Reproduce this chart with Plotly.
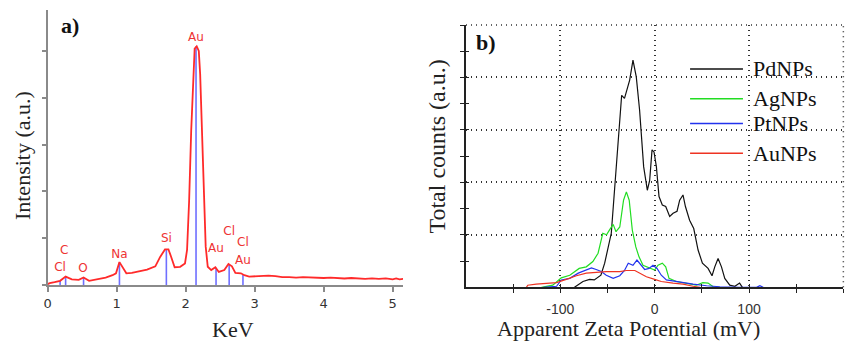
import plotly.graph_objects as go

# ---------------- Panel a: EDS spectrum ----------------
eds_kev = [0.0, 0.03, 0.1, 0.18, 0.26, 0.35, 0.45, 0.52, 0.6, 0.72, 0.84, 0.94, 0.99,
           1.04, 1.1, 1.14, 1.22, 1.3, 1.44, 1.56, 1.63, 1.7, 1.75, 1.79, 1.84, 1.92,
           1.99, 2.02, 2.05, 2.08, 2.11, 2.13, 2.16, 2.19, 2.21, 2.24, 2.27, 2.29, 2.32,
           2.37, 2.43, 2.48, 2.56, 2.62, 2.67, 2.72, 2.8, 2.85, 2.92, 3.0, 3.1, 3.2, 3.3,
           3.4, 3.5, 3.6, 3.7, 3.8, 3.9, 4.0, 4.1, 4.2, 4.3, 4.4, 4.5, 4.6, 4.7, 4.8,
           4.9, 5.0, 5.05, 5.1, 5.15]
eds_int = [0.02, 0.04, 0.06, 0.09, 0.18, 0.12, 0.11, 0.16, 0.09, 0.12, 0.16, 0.21, 0.25,
           0.49, 0.36, 0.25, 0.26, 0.28, 0.33, 0.40, 0.60, 0.76, 0.76, 0.60, 0.38, 0.39,
           0.46, 0.75, 1.8, 3.3, 4.6, 5.05, 5.1, 5.0, 4.5, 3.2, 1.6, 0.82, 0.39,
           0.32, 0.38, 0.28, 0.32, 0.45, 0.40, 0.26, 0.25, 0.21, 0.18, 0.19, 0.19, 0.20, 0.19,
           0.17, 0.17, 0.16, 0.17, 0.16, 0.16, 0.15, 0.16, 0.15, 0.14, 0.15, 0.14, 0.13, 0.14, 0.13,
           0.14, 0.12, 0.14, 0.12, 0.13]

# element marker lines (position, height)
line_kev = [0.18, 0.26, 0.52, 1.04, 1.72, 2.15, 2.44, 2.63, 2.83]
line_int = [0.09, 0.18, 0.16, 0.48, 0.76, 5.1, 0.37, 0.45, 0.23]

# element labels
elem_labels = ["Cl", "C", "O", "Na", "Si", "Au", "Au", "Cl", "Cl", "Au"]
elem_x = [0.18, 0.24, 0.51, 1.04, 1.72, 2.15, 2.44, 2.63, 2.83, 2.83]
elem_y = [0.36, 0.73, 0.34, 0.64, 0.98, 5.28, 0.77, 1.13, 0.90, 0.51]

eds_xticks = [0, 1, 2, 3, 4, 5]
eds_yticks = [0, 1, 2, 3, 4, 5]

# ---------------- Panel b: zeta potential ----------------
pd_mv = [-85, -76, -69, -64, -57, -53, -46, -41, -35, -32, -26.5, -23, -19.5, -16, -11.7,
         -7.8, -5.3, -2.8, -0.7, 1.8, 4.6, 8.1, 11.7, 15.9, 19.5, 23.7, 26.5, 30, 32.6,
         37, 41.4, 46, 50.6, 56.6, 60.8, 63.7, 67.2, 70.8, 74.3, 79.6, 85, 90, 93]
pd_cnt = [0, 0.11, 0.15, 0.14, 0.23, 0.46, 1.03, 2.3, 3.66, 3.6, 3.95, 4.33, 4.01, 3.38, 2.3,
          1.85, 2.04, 2.62, 2.58, 2.3, 1.73, 1.57, 1.54, 1.35, 1.41, 1.45, 1.66, 1.76, 1.54,
          1.28, 1.12, 0.71, 0.46, 0.36, 0.22, 0.39, 0.55, 0.39, 0.17, 0.04, 0.02, 0.08, 0]

ag_mv = [-120, -108, -99, -90, -80, -72.5, -65.5, -60, -55, -51, -48, -44, -41, -37, -33,
         -30, -27, -23.7, -20, -16.6, -12.4, -5.3, 0, 3.5, 8.1, 11.7, 15.2, 23, 33.6, 44,
         51, 56.6, 62, 69]
ag_cnt = [0, 0.04, 0.18, 0.23, 0.36, 0.39, 0.49, 0.65, 1.03, 1.0, 1.09, 1.2, 1.06, 1.15, 1.66,
          1.82, 1.66, 1.09, 0.77, 0.58, 0.42, 0.36, 0.33, 0.42, 0.46, 0.39, 0.17, 0.11, 0.08, 0.04,
          0.09, 0.08, 0.01, 0]

pt_mv = [-118, -104, -99, -90, -81, -72.5, -67, -62, -56.6, -51.3, -44, -37, -32, -28, -23,
         -18.8, -16, -10.6, -6, -1.8, 2.5, 7, 12.4, 19.5, 30, 40.7, 55, 69, 90, 108, 111.5, 115]
pt_cnt = [0, 0.02, 0.14, 0.17, 0.27, 0.33, 0.37, 0.34, 0.30, 0.23, 0.17, 0.22, 0.32, 0.46, 0.42,
          0.52, 0.46, 0.34, 0.36, 0.42, 0.36, 0.23, 0.14, 0.12, 0.08, 0.06, 0.03, 0.01, 0, 0, 0.03, 0]

au_mv = [-136, -134.5, -125.6, -115, -104, -93.7, -83, -72.5, -65.5, -51.3, -37, -30, -21,
         -16, -8.8, 0, 7, 19.5, 30, 40.7, 48]
au_cnt = [0, 0.04, 0.06, 0.08, 0.09, 0.15, 0.22, 0.27, 0.28, 0.30, 0.30, 0.32, 0.32,
          0.27, 0.20, 0.15, 0.11, 0.08, 0.06, 0.02, 0]

series_names = ["PdNPs", "AgNPs", "PtNPs", "AuNPs"]
series_colors = ["#111111", "#22dd22", "#2233ee", "#ee3322"]
series_x = [pd_mv, ag_mv, pt_mv, au_mv]
series_y = [pd_cnt, ag_cnt, pt_cnt, au_cnt]

zeta_range = [-200, 200]
count_range = [0, 5]
zeta_major = [-100, 0, 100, 200]
zeta_major_text = ["-100", "0", "100", "200"]
zeta_minor = [-150, -50, 50, 150]
count_major = [1, 2, 3, 4, 5]
count_minor = [0.5, 1.5, 2.5, 3.5, 4.5]

SERIF = "Liberation Serif, Times New Roman, serif"
DOTS = "1px,4px"
B_XDOM = [0.5463, 0.9887]
B_YDOM = [0.1624, 0.9271]

fig = go.Figure()

# Panel a traces
lx, ly = [], []
for k, h in zip(line_kev, line_int):
    lx += [k, k, None]
    ly += [0, h, None]
fig.add_trace(go.Scatter(x=lx, y=ly, mode="lines", line=dict(color="#6f6fff", width=1.6),
                         xaxis="x", yaxis="y", showlegend=False, hoverinfo="skip"))
fig.add_trace(go.Scatter(x=eds_kev, y=eds_int, mode="lines", line=dict(color="#ff2a2a", width=1.8),
                         xaxis="x", yaxis="y", showlegend=False))
fig.add_trace(go.Scatter(x=elem_x, y=elem_y, mode="text", text=elem_labels,
                         textfont=dict(family="DejaVu Sans, Verdana, sans-serif", size=12, color="#ee3333"),
                         xaxis="x", yaxis="y", showlegend=False, hoverinfo="skip"))

# Panel b traces
for name, col, xs, ys in zip(series_names, series_colors, series_x, series_y):
    fig.add_trace(go.Scatter(x=xs, y=ys, mode="lines", name=name,
                             line=dict(color=col, width=1.2),
                             xaxis="x2", yaxis="y2", showlegend=False))
# dummy trace for overlay axes (inside half of crossing ticks)
fig.add_trace(go.Scatter(x=[None], y=[None], xaxis="x3", yaxis="y3", showlegend=False))

axis_gray = "#8a8a8a"
fig.update_layout(
    width=853, height=343,
    margin=dict(l=0, r=0, t=0, b=0),
    paper_bgcolor="white", plot_bgcolor="white",
    xaxis=dict(domain=[0.0559, 0.4725], range=[0, 5.15], anchor="y", automargin=False,
               showline=True, linecolor=axis_gray, linewidth=2,
               ticks="outside", ticklen=5, tickwidth=1.5, tickcolor=axis_gray,
               tickvals=eds_xticks, ticktext=[str(v) for v in eds_xticks],
               tickfont=dict(family="DejaVu Sans, Verdana, sans-serif", size=13, color="#333"),
               showgrid=False, zeroline=False),
    yaxis=dict(domain=[0.169, 0.971], range=[0, 5.876], anchor="x", automargin=False,
               showline=True, linecolor=axis_gray, linewidth=2,
               ticks="outside", ticklen=4, tickwidth=1.5, tickcolor=axis_gray,
               tickvals=eds_yticks, showticklabels=False,
               showgrid=False, zeroline=False),
    xaxis2=dict(domain=B_XDOM, range=zeta_range, anchor="y2", automargin=False,
                showline=True, linecolor="#222", linewidth=1.5,
                ticks="outside", ticklen=4, tickwidth=1.2, tickcolor="#222",
                tickvals=zeta_major, ticktext=zeta_major_text, ticklabelstandoff=4,
                tickfont=dict(family="Liberation Sans Narrow, Arial Narrow, Liberation Sans, sans-serif",
                              size=14, color="#333"),
                showgrid=True, gridcolor="#333", griddash=DOTS, gridwidth=1.5,
                minor=dict(tickvals=zeta_minor, ticks="outside", ticklen=4, tickwidth=1.2,
                           tickcolor="#222", showgrid=False),
                zeroline=False),
    yaxis2=dict(domain=B_YDOM, range=count_range, anchor="x2", automargin=False,
                showline=True, linecolor="#222", linewidth=1.5,
                ticks="outside", ticklen=4, tickwidth=1.2, tickcolor="#222",
                tickvals=count_major, showticklabels=False,
                showgrid=True, gridcolor="#333", griddash=DOTS, gridwidth=1.5,
                minor=dict(tickvals=count_minor, ticks="outside", ticklen=4, tickwidth=1.2,
                           tickcolor="#222", showgrid=False),
                zeroline=False),
    xaxis3=dict(overlaying="x2", range=zeta_range, anchor="y3", automargin=False,
                showline=False, ticks="inside", ticklen=3, tickwidth=1.2, tickcolor="#222",
                tickvals=zeta_major, showticklabels=False, showgrid=False, zeroline=False,
                minor=dict(tickvals=zeta_minor, ticks="inside", ticklen=3, tickwidth=1.2,
                           tickcolor="#222", showgrid=False)),
    yaxis3=dict(overlaying="y2", range=count_range, anchor="x3", automargin=False,
                showline=False, ticks="inside", ticklen=3, tickwidth=1.2, tickcolor="#222",
                tickvals=count_major, showticklabels=False, showgrid=False, zeroline=False,
                minor=dict(tickvals=count_minor, ticks="inside", ticklen=3, tickwidth=1.2,
                           tickcolor="#222", showgrid=False)),
    showlegend=False,
)

def txt(text, x, y, size=22, angle=0, xanchor="center", color="#222"):
    return dict(text=text, x=x, y=y, xref="paper", yref="paper", xanchor=xanchor,
                yanchor="middle", textangle=angle, showarrow=False,
                font=dict(family=SERIF, size=size, color=color))

ann = [
    txt("<b>a)</b>", 0.082, 0.927, color="#111"),
    txt("<b>b)</b>", 0.570, 0.875, color="#111"),
    txt("Intensity (a.u.)", 0.0258, 0.545, angle=-90),
    txt("KeV", 0.273, 0.040),
    txt("Total counts (a.u.)", 0.512, 0.572, size=24, angle=-90),
    txt("Apparent Zeta Potential (mV)", 0.737, 0.042),
]

shapes = []
# dotted frame on the top and right of panel b
shapes.append(dict(type="line", xref="paper", yref="paper", x0=B_XDOM[0], x1=B_XDOM[1],
                   y0=B_YDOM[1], y1=B_YDOM[1], line=dict(color="#333", width=1.5, dash=DOTS)))
shapes.append(dict(type="line", xref="paper", yref="paper", x0=B_XDOM[1], x1=B_XDOM[1],
                   y0=B_YDOM[0], y1=B_YDOM[1], line=dict(color="#333", width=1.5, dash=DOTS)))

# custom legend
leg_y = [0.799, 0.712, 0.640, 0.553]
for name, col, yy in zip(series_names, series_colors, leg_y):
    shapes.append(dict(type="line", xref="paper", yref="paper", x0=0.809, x1=0.871,
                       y0=yy, y1=yy, line=dict(color=col, width=1.5)))
    ann.append(txt(name, 0.881, yy, xanchor="left", color="#111"))

fig.update_layout(annotations=ann, shapes=shapes)

fig.write_html("out.html", config={"displayModeBar": False},
               post_script="document.body.style.margin='0';document.body.style.padding='0';"
                           "document.body.style.overflow='hidden';")
